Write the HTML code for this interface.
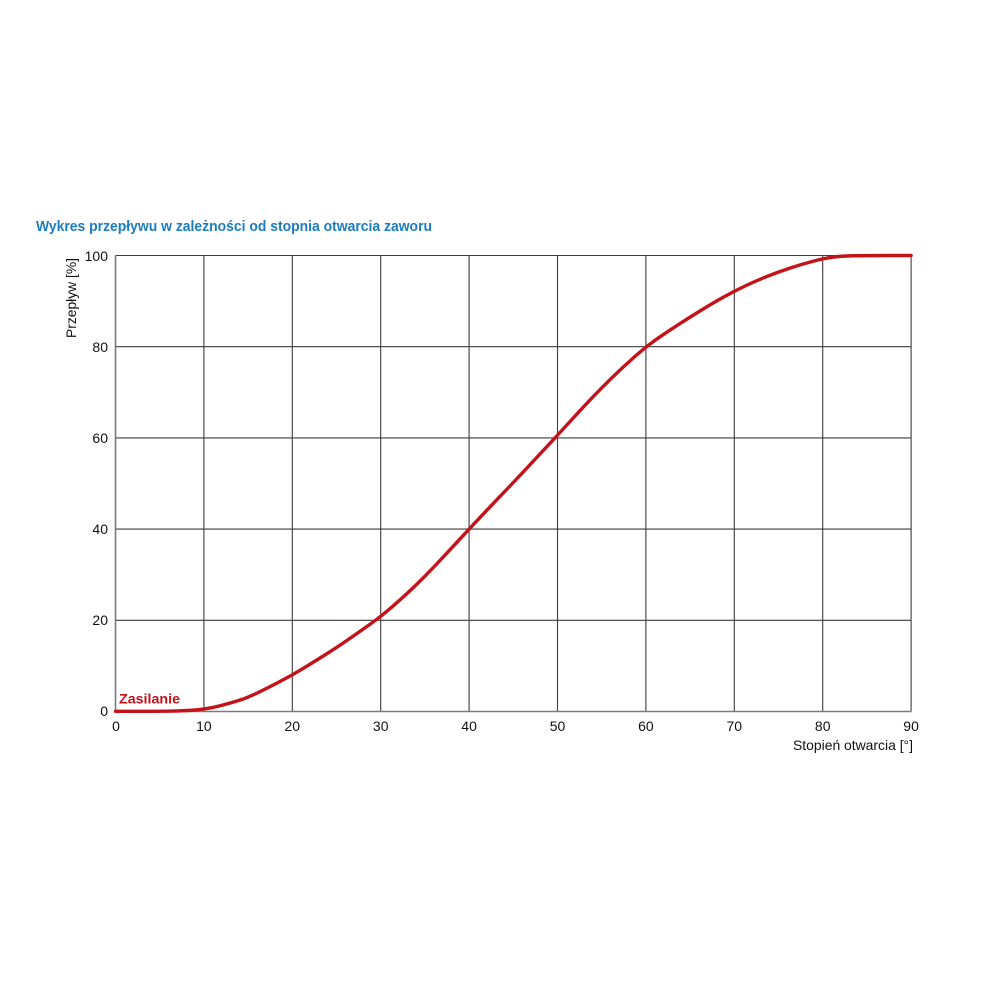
<!DOCTYPE html>
<html><head><meta charset="utf-8"><style>
html,body{margin:0;padding:0;background:#fff;}
svg{display:block;}
text{font-family:"Liberation Sans",sans-serif;}
</style></head><body>
<svg width="1000" height="1000" viewBox="0 0 1000 1000" xmlns="http://www.w3.org/2000/svg">
<rect width="1000" height="1000" fill="#fff"/>
<text x="36" y="231" font-size="15" font-weight="bold" fill="#1b7cc1" textLength="396" lengthAdjust="spacingAndGlyphs">Wykres przepływu w zależności od stopnia otwarcia zaworu</text>
<g stroke="#3c3c3c" stroke-width="1.1" fill="none">
<line x1="203.9" y1="255.5" x2="203.9" y2="711.5"/>
<line x1="292.3" y1="255.5" x2="292.3" y2="711.5"/>
<line x1="380.7" y1="255.5" x2="380.7" y2="711.5"/>
<line x1="469.1" y1="255.5" x2="469.1" y2="711.5"/>
<line x1="557.5" y1="255.5" x2="557.5" y2="711.5"/>
<line x1="645.9" y1="255.5" x2="645.9" y2="711.5"/>
<line x1="734.3" y1="255.5" x2="734.3" y2="711.5"/>
<line x1="822.7" y1="255.5" x2="822.7" y2="711.5"/>
<line x1="911.1" y1="255.5" x2="911.1" y2="711.5"/>
<line x1="115.5" y1="255.5" x2="911.1" y2="255.5"/>
<line x1="115.5" y1="346.7" x2="911.1" y2="346.7"/>
<line x1="115.5" y1="437.9" x2="911.1" y2="437.9"/>
<line x1="115.5" y1="529.1" x2="911.1" y2="529.1"/>
<line x1="115.5" y1="620.3" x2="911.1" y2="620.3"/>
</g>
<g stroke="#7a7a7a" stroke-width="1.6" fill="none">
<line x1="115.5" y1="255" x2="115.5" y2="712"/>
<line x1="115" y1="711.5" x2="911.5" y2="711.5"/>
</g>
<g font-size="14" fill="#111" text-anchor="end">
<text x="108" y="261">100</text>
<text x="108" y="352">80</text>
<text x="108" y="443">60</text>
<text x="108" y="534">40</text>
<text x="108" y="625">20</text>
<text x="108" y="716">0</text>
</g>
<g font-size="14" fill="#111" text-anchor="middle">
<text x="116" y="731">0</text>
<text x="203.9" y="731">10</text>
<text x="292.3" y="731">20</text>
<text x="380.7" y="731">30</text>
<text x="469.1" y="731">40</text>
<text x="557.5" y="731">50</text>
<text x="645.9" y="731">60</text>
<text x="734.3" y="731">70</text>
<text x="822.7" y="731">80</text>
<text x="911.1" y="731">90</text>
</g>
<text x="793" y="750" font-size="14" fill="#111" textLength="120" lengthAdjust="spacingAndGlyphs">Stopień otwarcia [°]</text>
<text transform="translate(76,338) rotate(-90)" font-size="14" fill="#111" textLength="80" lengthAdjust="spacingAndGlyphs">Przepływ [%]</text>
<text x="119" y="703.5" font-size="14" font-weight="bold" fill="#c4121a" textLength="61" lengthAdjust="spacingAndGlyphs">Zasilanie</text>
<path fill="none" stroke="#c4121a" stroke-width="3.4" stroke-linejoin="round" stroke-linecap="round" d="M115.5,711.3 Q159.7,711.3 172.95,711.05 Q186.2,710.8 195.05,710 Q203.9,709.2 209.45,708.1 Q215,707 220.5,705.6 Q226,704.2 231.5,702.6 Q237,701 242.55,699.2 Q248.1,697.4 259.05,692.1 Q270,686.8 281.15,680.9 Q292.3,675 303.15,668.4 Q314,661.8 325.25,654.75 Q336.5,647.7 347.25,640.25 Q358,632.8 369.35,624.75 Q380.7,616.7 391.85,607.1 Q403,597.5 413.95,587 Q424.9,576.5 435.95,564.75 Q447,553 458.05,541.05 Q469.1,529.1 480.05,517.45 Q491,505.8 502.15,494.2 Q513.3,482.6 524.35,470.75 Q535.4,458.9 546.45,447.05 Q557.5,435.2 568.55,423.1 Q579.6,411 590.65,399.35 Q601.7,387.7 612.75,377 Q623.8,366.3 634.85,356.5 Q645.9,346.7 656.95,338.95 Q668,331.2 679.05,324.15 Q690.1,317.1 701.15,310.25 Q712.2,303.4 723.25,297.25 Q734.3,291.1 745.35,285.85 Q756.4,280.6 767.45,276.25 Q778.5,271.9 789.55,268.25 Q800.6,264.6 811.65,261.65 Q822.7,258.7 831.55,257.35 Q840.4,256 853.7,255.75 Q867,255.5 889.05,255.5 L911.1,255.5"/>
</svg>
</body></html>
